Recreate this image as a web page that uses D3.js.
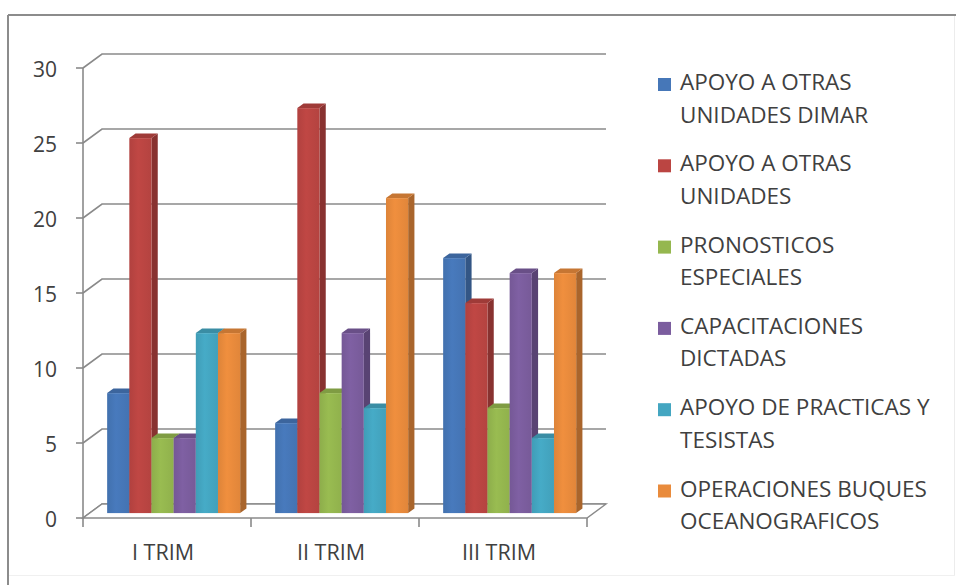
<!DOCTYPE html>
<html><head><meta charset="utf-8">
<script src="https://cdn.jsdelivr.net/npm/d3@7"></script>
<style>body{margin:0;background:#fff}svg{display:block}text{font-family:"Open Sans",sans-serif;fill:#404040}</style>
</head><body><svg id="c" width="956" height="585"></svg>
<script>
const categories = ["I TRIM", "II TRIM", "III TRIM"];
const seriesNames = ["APOYO A OTRAS UNIDADES DIMAR","APOYO A OTRAS UNIDADES","PRONOSTICOS ESPECIALES","CAPACITACIONES DICTADAS","APOYO DE PRACTICAS Y TESISTAS","OPERACIONES BUQUES OCEANOGRAFICOS"];
const legendLines = [["APOYO A OTRAS","UNIDADES DIMAR"],["APOYO A OTRAS","UNIDADES"],["PRONOSTICOS","ESPECIALES"],["CAPACITACIONES","DICTADAS"],["APOYO DE PRACTICAS Y","TESISTAS"],["OPERACIONES BUQUES","OCEANOGRAFICOS"]];
const apoyoDimar = [8, 6, 17];
const apoyoOtras = [25, 27, 14];
const pronosticos = [5, 8, 7];
const capacitaciones = [5, 12, 16];
const practicas = [12, 7, 5];
const operaciones = [12, 21, 16];
const seriesValues = [apoyoDimar, apoyoOtras, pronosticos, capacitaciones, practicas, operaciones];
const colors = ["#4677b8","#bb4542","#95b74f","#7b5d9e","#44a6c1","#e98b3c"];
const yTicks = [0,5,10,15,20,25,30];

const svg = d3.select("#c");
svg.append("line").attr("x1",8).attr("x2",8).attr("y1",15).attr("y2",585).attr("stroke","#8c8c8c").attr("stroke-width",2);
svg.append("line").attr("x1",8).attr("x2",956).attr("y1",15).attr("y2",15).attr("stroke","#8c8c8c").attr("stroke-width",2);
svg.append("line").attr("x1",954.5).attr("x2",954.5).attr("y1",16).attr("y2",575).attr("stroke","#ececec").attr("stroke-width",1);
svg.append("line").attr("x1",9).attr("x2",955).attr("y1",575.5).attr("y2",575.5).attr("stroke","#f0f0f0").attr("stroke-width",1);

const x0 = 83, x1 = 587;
const D = {dx:19, dy:-14};
const y = d3.scaleLinear().domain([0,30]).range([518,68]);
const xc = d3.scaleBand().domain(categories).range([x0,x1]).padding(0);
const xs = d3.scaleBand().domain(d3.range(6)).range([17.5, xc.bandwidth()-17.5]).padding(0);

const grid = "#8a8a8a";
const g = svg.append("g");
yTicks.forEach(t=>{
  const yy = y(t);
  g.append("path").attr("d",`M${x0},${yy}L${x0+D.dx},${yy+D.dy}L${x1+D.dx},${yy+D.dy}`)
   .attr("fill","none").attr("stroke",grid).attr("stroke-width",1.6);
});
g.append("path").attr("d",`M${x0},${y(0)}L${x1},${y(0)}L${x1+D.dx},${y(0)+D.dy}L${x0+D.dx},${y(0)+D.dy}Z`)
 .attr("fill","#fff").attr("stroke",grid).attr("stroke-width",1.4);
g.append("line").attr("x1",x0).attr("x2",x0).attr("y1",y(30)).attr("y2",y(0)+1).attr("stroke",grid).attr("stroke-width",1.6);
yTicks.forEach(t=>{
  g.append("line").attr("x1",x0-7).attr("x2",x0).attr("y1",y(t)).attr("y2",y(t)).attr("stroke",grid).attr("stroke-width",1.6);
  g.append("text").attr("x",57).attr("y",y(t)+3).attr("text-anchor","end").attr("dominant-baseline","middle")
   .attr("font-size",21).text(t);
});
d3.range(4).forEach(i=>{
  const xx = x0 + i*xc.bandwidth();
  g.append("line").attr("x1",xx).attr("x2",xx).attr("y1",y(0)).attr("y2",y(0)+9).attr("stroke",grid).attr("stroke-width",1.6);
});
categories.forEach(c=>{
  g.append("text").attr("x",xc(c)+xc.bandwidth()/2-4).attr("y",554).attr("text-anchor","middle").attr("dominant-baseline","middle")
   .attr("font-size",21.5).text(c);
});

const fS = 0.35, bS = 0.68;
const fdx = D.dx*fS, fdy = D.dy*fS, bdx = D.dx*(bS-fS), bdy = D.dy*(bS-fS);
const defs = svg.append("defs");
colors.forEach((c,i)=>{
  const lg = defs.append("linearGradient").attr("id","gf"+i).attr("x1","0").attr("x2","1").attr("y1","0").attr("y2","0");
  lg.append("stop").attr("offset","0%").attr("stop-color",d3.color(c).darker(0.15));
  lg.append("stop").attr("offset","40%").attr("stop-color",d3.color(c).brighter(0.08));
  lg.append("stop").attr("offset","100%").attr("stop-color",d3.color(c).darker(0.1));
});
const bars = svg.append("g");
categories.forEach((c,ci)=>{
  seriesValues.forEach((vals,si)=>{
    const v = vals[ci];
    const left = xc(c)+xs(si)+fdx, w = xs.bandwidth();
    const top = y(v)+fdy, bot = y(0)+fdy;
    const col = colors[si];
    bars.append("path").attr("d",`M${left+w},${top}L${left+w+bdx},${top+bdy}L${left+w+bdx},${bot+bdy}L${left+w},${bot}Z`)
      .attr("fill",d3.color(col).darker(0.9));
    bars.append("path").attr("d",`M${left},${top}L${left+w},${top}L${left+w+bdx},${top+bdy}L${left+bdx},${top+bdy}Z`)
      .attr("fill",d3.color(col).darker(0.45));
    bars.append("rect").attr("x",left).attr("y",top).attr("width",w).attr("height",bot-top)
      .attr("fill",`url(#gf${si})`);
  });
});

const lg = svg.append("g");
legendLines.forEach((lines,i)=>{
  const cy = 84 + i*81.3;
  lg.append("rect").attr("x",658).attr("y",cy-6).attr("width",13).attr("height",13).attr("fill",colors[i]);
  lines.forEach((ln,j)=>{
    lg.append("text").attr("x",680).attr("y",cy+j*32.5).attr("dominant-baseline","middle").attr("font-size",22.5).text(ln);
  });
});
</script></body></html>
